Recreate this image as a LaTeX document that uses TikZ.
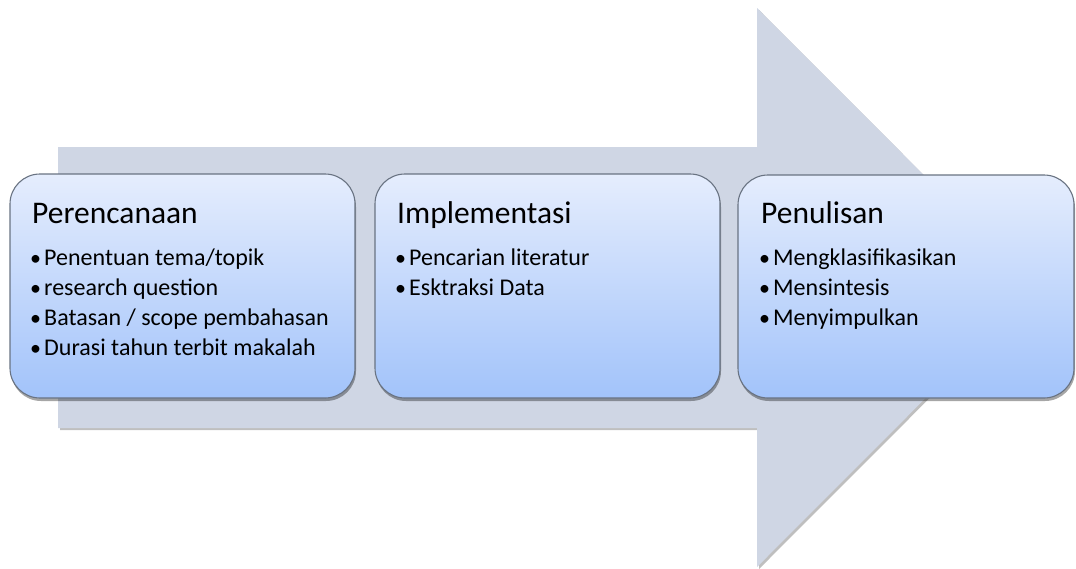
\documentclass[tikz,border=0pt]{standalone}
\usepackage{fontspec}
\setmainfont{Carlito}
\usetikzlibrary{shadows}
\definecolor{arrowfill}{RGB}{207,214,228}
\definecolor{boxtop}{RGB}{229,237,253}
\definecolor{boxbot}{RGB}{162,195,250}
\definecolor{boxline}{RGB}{105,115,130}
\tikzset{
  stagebox/.style={draw=boxline, line width=1.1pt, rounded corners=30pt,
    top color=boxtop, bottom color=boxbot,
    drop shadow={shadow xshift=1pt, shadow yshift=-3pt, opacity=0.35, fill=black}},
  bigarrow/.style={fill=arrowfill,
    drop shadow={shadow xshift=2pt, shadow yshift=-2pt, opacity=0.25, fill=black}},
  stagetitle/.style={anchor=base west, inner sep=0pt, font=\fontsize{31.5}{36}\selectfont},
  stageitem/.style={anchor=base west, inner sep=0pt, font=\fontsize{24}{28}\selectfont},
  stagebullet/.style={anchor=base west, inner sep=0pt, font=\fontsize{22}{28}\selectfont},
}
\begin{document}
\begin{tikzpicture}[x=1pt,y=-1pt]
\useasboundingbox (0,0) rectangle (1076,568);
\path[bigarrow] (58,147) -- (757,147) -- (757,8) -- (1036,287.5) -- (757,567) -- (757,428) -- (58,428) -- cycle;
% boxes
\path[stagebox] (10,174) rectangle (355,398);
\path[stagebox] (375,174) rectangle (720,398);
\path[stagebox] (738,175) rectangle (1074,398);
% box 1
\node[stagetitle] (t1) at (32,223) {Perencanaan};
\node[stagebullet] (a1) at (30,265) {•};
\node[stageitem] (a1t) at (44,265) {Penentuan tema/topik};
\node[stagebullet] (a2) at (30,295) {•};
\node[stageitem] (a2t) at (44,295) {research question};
\node[stagebullet] (a3) at (30,325) {•};
\node[stageitem] (a3t) at (44,325) {Batasan / scope pembahasan};
\node[stagebullet] (a4) at (30,355) {•};
\node[stageitem] (a4t) at (44,355) {Durasi tahun terbit makalah};
% box 2
\node[stagetitle] (t2) at (397,223) {Implementasi};
\node[stagebullet] (b1) at (395,265) {•};
\node[stageitem] (b1t) at (409,265) {Pencarian literatur};
\node[stagebullet] (b2) at (395,295) {•};
\node[stageitem] (b2t) at (409,295) {Esktraksi Data};
% box 3
\node[stagetitle] (t3) at (761,223) {Penulisan};
\node[stagebullet] (c1) at (759,265) {•};
\node[stageitem] (c1t) at (773,265) {Mengklasifikasikan};
\node[stagebullet] (c2) at (759,295) {•};
\node[stageitem] (c2t) at (773,295) {Mensintesis};
\node[stagebullet] (c3) at (759,325) {•};
\node[stageitem] (c3t) at (773,325) {Menyimpulkan};
\end{tikzpicture}
\end{document}
